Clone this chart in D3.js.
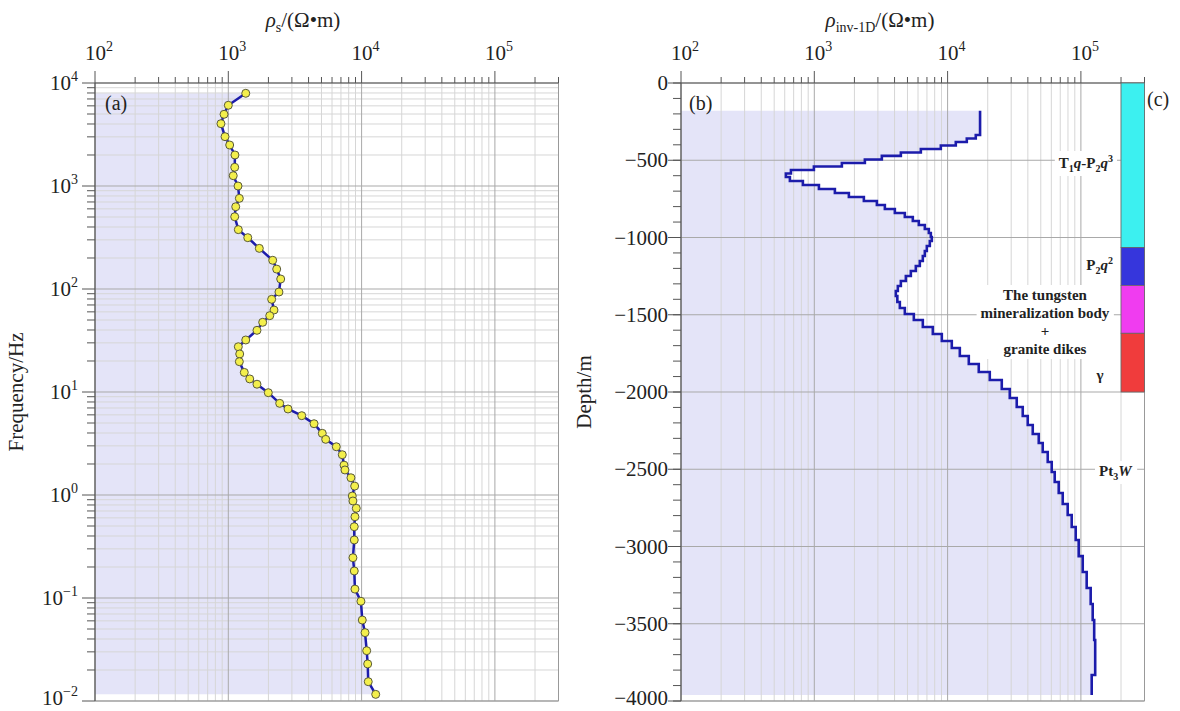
<!DOCTYPE html>
<html>
<head>
<meta charset="utf-8">
<script src="https://cdn.jsdelivr.net/npm/d3@7"></script>
<style>
  body { margin: 0; background: #fff; }
  svg { font-family: "Liberation Serif", "Times New Roman", serif; }
</style>
</head>
<body>
<svg id="chart" width="1180" height="711"></svg>
<script>
// (a) apparent resistivity sounding curve
const freq = [7943, 6075, 4966, 4027, 3013, 2500, 2000, 1520, 1259, 1000,
  759, 629, 503, 377, 315, 248, 190, 156, 125, 93.5,
  79.4, 62.5, 55.1, 47.5, 39.7, 32, 27.5, 23.4, 19.7, 15.5,
  13.4, 11.9, 9.85, 7.76, 6.84, 5.89, 4.92, 3.97, 3.47, 2.94,
  2.46, 1.95, 1.75, 1.47, 1.22, 0.977, 0.875, 0.743, 0.615, 0.492,
  0.366, 0.246, 0.183, 0.122, 0.0929, 0.0611, 0.0461, 0.0308, 0.0229, 0.0154, 0.0116];
const rhoS = [1352, 1000, 929, 881, 945, 1024, 1122, 1117, 1089, 1183,
  1210, 1137, 1117, 1189, 1400, 1709, 2153, 2307, 2472, 2399,
  2115, 2202, 2046, 1811, 1641, 1352, 1189, 1218, 1210, 1318,
  1448, 1641, 1995, 2430, 2805, 3556, 4398, 5070, 5380, 6460,
  7161, 7379, 7500, 8318, 8872, 8511, 8610, 9120, 8913, 8810,
  8810, 8610, 8810, 8913, 9886, 10116, 10610, 10920, 11110, 11220, 12760];

// (b) 1D inversion : top of each layer (m) and its resistivity
const layerTop = [-179, -337, -359, -382, -405, -427, -450, -472, -495, -518,
  -540, -563, -586, -608, -634, -660, -686, -712, -738, -764,
  -790, -816, -841, -867, -893, -919, -945, -971, -997, -1023,
  -1055, -1087, -1120, -1152, -1184, -1217, -1249, -1282, -1314, -1346,
  -1379, -1417, -1456, -1495, -1534, -1579, -1625, -1670, -1715, -1767,
  -1819, -1871, -1922, -1981, -2039, -2097, -2155, -2214, -2272, -2330,
  -2388, -2453, -2518, -2583, -2654, -2725, -2796, -2874, -2958, -3062,
  -3165, -3269, -3372, -3476, -3605, -3832];
const rhoInv = [17520, 16270, 13930, 11520, 8895, 6298, 4460, 3211, 2395, 1610,
  993, 668, 612, 656, 821, 1083, 1427, 1817, 2354, 2947,
  3383, 4020, 4777, 5484, 6083, 6747, 7230, 7484, 7614, 7355,
  6985, 6747, 6518, 6188, 5776, 5300, 4862, 4460, 4233, 4089,
  4197, 4383, 4777, 5580, 6518, 7746, 9049, 10750, 12350, 14420,
  17130, 20720, 25490, 29270, 33010, 36620, 39920, 43530, 48280, 51710,
  56380, 60410, 63620, 68170, 73050, 79620, 85310, 91420, 96270, 103200,
  110500, 118400, 122600, 125800, 128000, 120500];
const bottomDepth = -3961;

// (c) geological column
const unitTop = [0, -1065, -1310, -1620];
const unitBottom = [-1065, -1310, -1620, -2000];
const unitColor = ["#3cf0f0", "#3636dc", "#f03cf0", "#f03c3c"];

// ticks
const rhoTicks = [1e2, 1e3, 1e4, 1e5];
const freqTicks = [1e4, 1e3, 1e2, 1e1, 1e0, 1e-1, 1e-2];
const depthTicks = [0, -500, -1000, -1500, -2000, -2500, -3000, -3500, -4000];

const svg = d3.select("#chart");
const plotTop = 83, H = 618, W = 463.5;
const lineCol = "#1c1cab", fillCol = "#e4e4f8";
const gridMinor = "#d6d6d6", gridMajor = "#a9a9a9", axisCol = "#555";

const xA = d3.scaleLog().domain([1e2, 3e5]).range([95, 95 + W]);
const yA = d3.scaleLog().domain([1e-2, 1e4]).range([plotTop + H, plotTop]);
const xB = d3.scaleLog().domain([1e2, 3e5]).range([681, 681 + W]);
const yB = d3.scaleLinear().domain([-4000, 0]).range([plotTop + H, plotTop]);

// minor ticks 2..9 of each decade inside a domain
function minors(dom) {
  const out = [];
  for (let e = Math.floor(Math.log10(dom[0])); e < Math.ceil(Math.log10(dom[1])); e++)
    for (let m = 2; m <= 9; m++) {
      const v = m * Math.pow(10, e);
      if (v > dom[0] && v <= dom[1] * 1.0001) out.push(v);
    }
  return out;
}

function powLabel(g, x, y, v, anchor) {
  const e = Math.round(Math.log10(v));
  const t = g.append("text").attr("x", x).attr("y", y)
    .attr("text-anchor", anchor).attr("font-size", 21).attr("fill", "#222");
  t.append("tspan").text("10");
  t.append("tspan").attr("dy", -9).attr("font-size", 14).text(e < 0 ? "\u2212" + (-e) : e);
}

function hLine(g, x1, x2, y, col, w) {
  g.append("line").attr("x1", x1).attr("x2", x2).attr("y1", y).attr("y2", y)
    .attr("stroke", col).attr("stroke-width", w);
}
function vLine(g, x, y1, y2, col, w) {
  g.append("line").attr("x1", x).attr("x2", x).attr("y1", y1).attr("y2", y2)
    .attr("stroke", col).attr("stroke-width", w);
}

// ---------------- panel (a) ----------------
const gA = svg.append("g");
const ptsA = freq.map((f, i) => ({ f: f, r: rhoS[i] }));
const x0A = xA.range()[0], x1A = xA.range()[1];

gA.append("path").datum(ptsA)
  .attr("d", d3.area().x0(x0A).x1(d => xA(d.r)).y(d => yA(d.f)))
  .attr("fill", fillCol);

minors(xA.domain()).forEach(v => vLine(gA, xA(v), plotTop, plotTop + H, gridMinor, 1));
minors(yA.domain()).forEach(v => hLine(gA, x0A, x1A, yA(v), gridMinor, 1));
rhoTicks.forEach(v => vLine(gA, xA(v), plotTop, plotTop + H, gridMajor, 1));
freqTicks.forEach(v => hLine(gA, x0A, x1A, yA(v), gridMajor, 1));
vLine(gA, x1A, plotTop, plotTop + H, "#999", 1);
hLine(gA, x0A, x1A, plotTop + H, "#999", 1);

// axes
hLine(gA, x0A, x1A, plotTop, axisCol, 1.2);
vLine(gA, x0A, plotTop, plotTop + H, axisCol, 1.2);
minors(xA.domain()).forEach(v => vLine(gA, xA(v), plotTop - 6, plotTop, axisCol, 1));
rhoTicks.forEach(v => vLine(gA, xA(v), plotTop - 12, plotTop, axisCol, 1));
minors(yA.domain()).forEach(v => hLine(gA, x0A - 8, x0A, yA(v), axisCol, 1));
freqTicks.forEach(v => hLine(gA, x0A - 13, x0A, yA(v), axisCol, 1));
rhoTicks.forEach(v => powLabel(gA, xA(v) + 4, 60, v, "middle"));
freqTicks.forEach(v => powLabel(gA, 78, Math.min(yA(v) + 7, 705), v, "end"));

gA.append("path").datum(ptsA)
  .attr("d", d3.line().x(d => xA(d.r)).y(d => yA(d.f)))
  .attr("fill", "none").attr("stroke", lineCol).attr("stroke-width", 2.5);
gA.selectAll("circle").data(ptsA).join("circle")
  .attr("cx", d => xA(d.r)).attr("cy", d => yA(d.f)).attr("r", 4)
  .attr("fill", "#f3ef4c").attr("stroke", "#5a5a3a").attr("stroke-width", 1);

// titles
const tA = gA.append("text").attr("x", 303).attr("y", 27).attr("text-anchor", "middle")
  .attr("font-size", 21).attr("fill", "#222");
tA.append("tspan").attr("font-style", "italic").text("\u03c1");
tA.append("tspan").attr("dy", 5).attr("font-size", 14).text("s");
tA.append("tspan").attr("dy", -5).text("/(\u03a9\u2022m)");
gA.append("text").attr("transform", "translate(23,392) rotate(-90)")
  .attr("text-anchor", "middle").attr("font-size", 21).attr("fill", "#222").text("Frequency/Hz");
gA.append("text").attr("x", 105).attr("y", 110).attr("font-size", 20).attr("fill", "#222").text("(a)");

// ---------------- panel (b) ----------------
const gB = svg.append("g");
const ptsB = layerTop.map((d, i) => ({ d: d, r: rhoInv[i] }))
  .concat([{ d: bottomDepth, r: rhoInv[rhoInv.length - 1] }]);
const x0B = xB.range()[0], x1B = xB.range()[1];

gB.append("path").datum(ptsB)
  .attr("d", d3.area().curve(d3.curveStepBefore).x0(x0B).x1(p => xB(p.r)).y(p => yB(p.d)))
  .attr("fill", fillCol);

minors(xB.domain()).forEach(v => vLine(gB, xB(v), plotTop, plotTop + H, gridMinor, 1));
rhoTicks.forEach(v => vLine(gB, xB(v), plotTop, plotTop + H, gridMajor, 1));
depthTicks.forEach(v => hLine(gB, x0B, x1B, yB(v), gridMajor, 1));
vLine(gB, x1B, plotTop, plotTop + H, "#999", 1);
hLine(gB, x0B, x1B, plotTop + H, "#999", 1);

hLine(gB, x0B, x1B, plotTop, axisCol, 1.2);
vLine(gB, x0B, plotTop, plotTop + H, axisCol, 1.2);
minors(xB.domain()).forEach(v => vLine(gB, xB(v), plotTop - 6, plotTop, axisCol, 1));
rhoTicks.forEach(v => vLine(gB, xB(v), plotTop - 12, plotTop, axisCol, 1));
d3.range(0, -4001, -100).forEach(v => hLine(gB, x0B - 8, x0B, yB(v), axisCol, 1));
depthTicks.forEach(v => hLine(gB, x0B - 13, x0B, yB(v), axisCol, 1));
rhoTicks.forEach(v => powLabel(gB, xB(v) + 4, 60, v, "middle"));
depthTicks.forEach(v => gB.append("text").attr("x", 668).attr("y", Math.min(yB(v) + 7, 705))
  .attr("text-anchor", "end").attr("font-size", 21).attr("fill", "#222")
  .text(v === 0 ? "0" : "\u2212" + (-v)));

// geological column (c)
unitTop.forEach((t, i) => gB.append("rect")
  .attr("x", xB(2e5)).attr("y", yB(t))
  .attr("width", xB(3e5) - xB(2e5)).attr("height", yB(unitBottom[i]) - yB(t))
  .attr("fill", unitColor[i]).attr("stroke", "#666").attr("stroke-width", 0.8));

gB.append("path").datum(ptsB)
  .attr("d", d3.line().curve(d3.curveStepBefore).x(p => xB(p.r)).y(p => yB(p.d)))
  .attr("fill", "none").attr("stroke", lineCol).attr("stroke-width", 2.6);

const tB = gB.append("text").attr("x", 880).attr("y", 27).attr("text-anchor", "middle")
  .attr("font-size", 21).attr("fill", "#222");
tB.append("tspan").attr("font-style", "italic").text("\u03c1");
tB.append("tspan").attr("dy", 5).attr("font-size", 14).text("inv-1D");
tB.append("tspan").attr("dy", -5).text("/(\u03a9\u2022m)");
gB.append("text").attr("transform", "translate(591,392) rotate(-90)")
  .attr("text-anchor", "middle").attr("font-size", 21).attr("fill", "#222").text("Depth/m");
gB.append("text").attr("x", 689).attr("y", 110).attr("font-size", 20).attr("fill", "#222").text("(b)");
gB.append("text").attr("x", 1147).attr("y", 106).attr("font-size", 20).attr("fill", "#222").text("(c)");

// unit labels, white boxes behind
function richLabel(x, y, anchor, lines) {
  const g = gB.append("g");
  const t = g.append("text").attr("text-anchor", anchor).attr("font-size", 15)
    .attr("font-weight", "bold").attr("fill", "#222");
  lines.forEach((segs, li) => {
    let shift = 0;
    segs.forEach((s, si) => {
      const sp = t.append("tspan");
      if (si === 0) sp.attr("x", x).attr("y", y + li * 18);
      let target = s[1] === "sub" ? 4 : s[1] === "sup" ? -6 : 0;
      if (target !== shift) sp.attr("dy", target - shift);
      shift = target;
      if (s[1] === "sub" || s[1] === "sup") sp.attr("font-size", 10);
      if (s[1] === "it") sp.attr("font-style", "italic");
      sp.text(s[0]);
    });
  });
  const bb = t.node().getBBox();
  g.insert("rect", "text").attr("x", bb.x - 4).attr("y", bb.y - 2)
    .attr("width", bb.width + 8).attr("height", bb.height + 4).attr("fill", "#fff");
}
richLabel(1113, 168, "end", [[["T"], ["1", "sub"], ["q", "it"], ["-P"], ["2", "sub"], ["q", "it"], ["3", "sup"]]]);
richLabel(1113, 270, "end", [[["P"], ["2", "sub"], ["q", "it"], ["2", "sup"]]]);
richLabel(1045, 300, "middle", [[["The tungsten"]], [["mineralization body"]], [["+"]], [["granite dikes"]]]);
richLabel(1100, 380, "middle", [[["\u03b3"]]]);
richLabel(1099, 476, "start", [[["Pt"], ["3", "sub"], ["W", "it"]]]);
</script>
</body>
</html>
